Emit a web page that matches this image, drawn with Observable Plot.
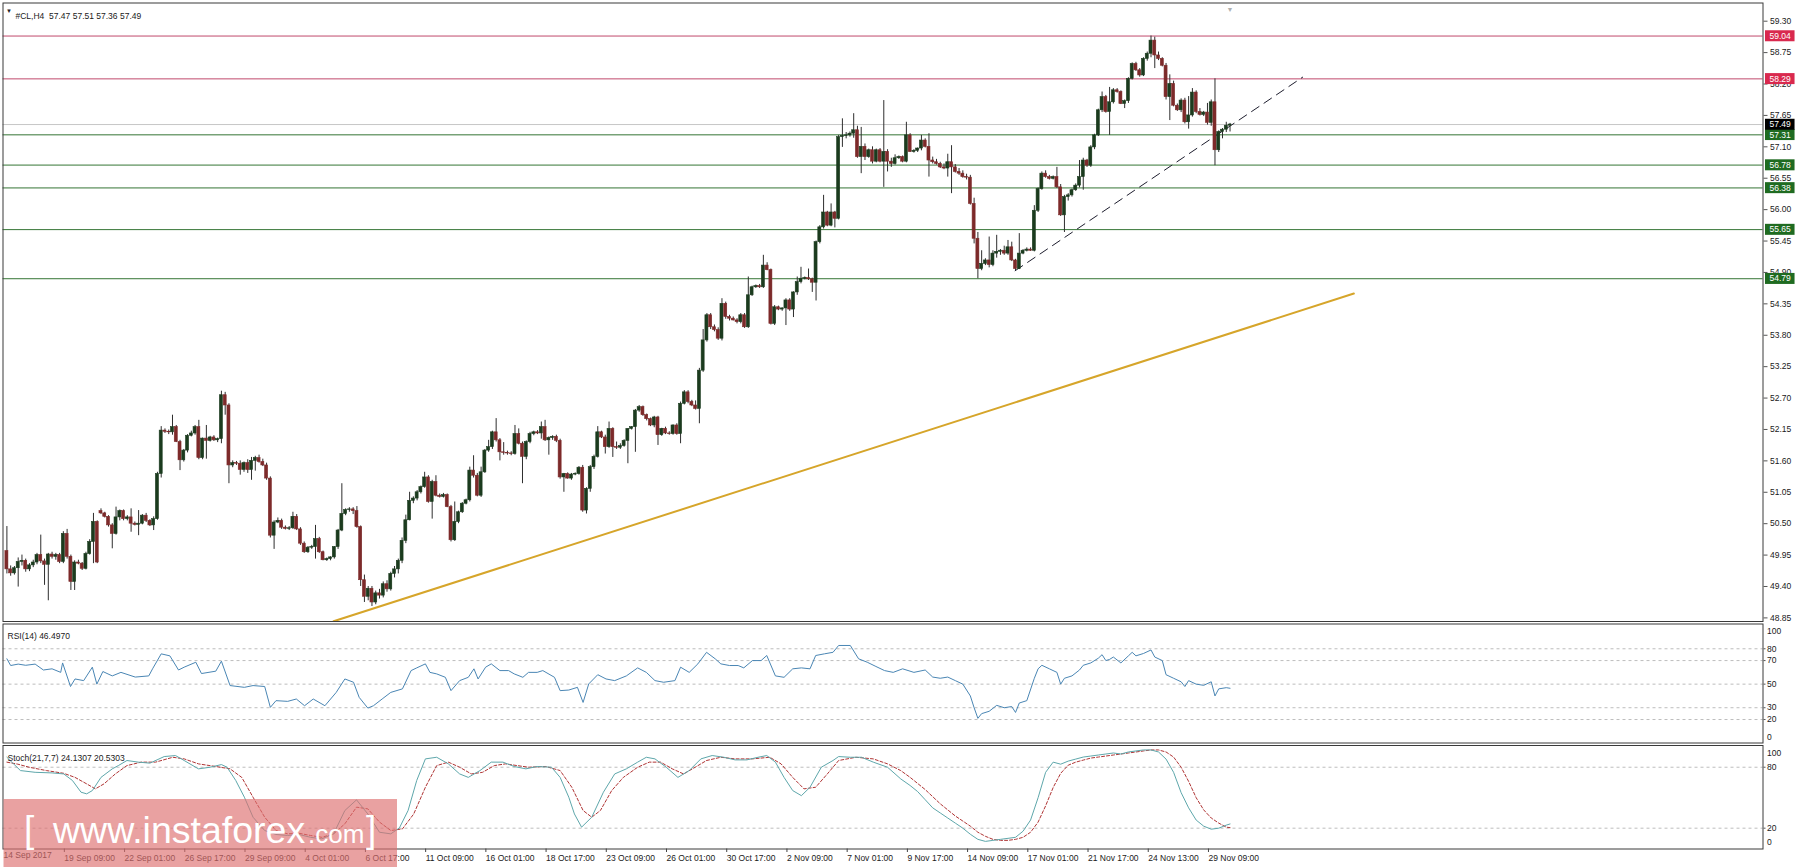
<!DOCTYPE html>
<html><head><meta charset="utf-8">
<script src="https://cdn.jsdelivr.net/npm/d3@7"></script>
<script src="https://cdn.jsdelivr.net/npm/@observablehq/plot@0.6"></script>
<style>
html,body{margin:0;padding:0;background:#fff;}
#wrap{position:relative;width:1800px;height:868px;overflow:hidden;font-family:"Liberation Sans",Arial,sans-serif;}
#wrap svg{position:absolute;left:0;top:0;}
</style></head><body><div id="wrap"></div>
<script>
// ---------------- DATA ----------------
const symbol = "#CL,H4";
const headerVals = [57.47, 57.51, 57.36, 57.49];

const open = [50.02,49.70,49.63,49.72,49.83,49.85,49.70,49.77,49.82,49.95,49.84,49.78,49.96,49.92,49.95,49.83,50.32,49.92,49.48,49.82,
49.80,49.71,49.97,50.18,50.53,50.72,50.68,50.62,50.47,50.32,50.61,50.72,50.58,50.61,50.50,50.48,50.50,50.64,50.55,50.47,
50.58,51.37,52.13,52.11,52.10,52.19,51.93,51.61,51.78,52.04,52.08,52.19,51.65,51.99,51.95,52.01,51.96,51.98,52.75,52.57,
51.52,51.56,51.55,51.44,51.56,51.44,51.60,51.65,51.58,51.52,51.29,50.29,50.52,50.55,50.43,50.41,50.42,50.62,50.40,50.15,
50.00,50.08,50.09,50.23,50.00,49.86,49.88,49.91,50.09,50.38,50.67,50.74,50.75,50.72,50.44,49.51,49.22,49.36,49.12,49.28,
49.24,49.44,49.35,49.62,49.70,49.85,50.20,50.56,50.90,50.94,51.05,51.14,51.31,50.88,51.23,50.99,50.97,51.00,50.79,50.21,
50.53,50.70,50.85,50.91,51.43,51.34,50.99,51.40,51.78,51.84,52.10,51.96,51.75,51.74,51.73,51.72,52.07,51.90,51.67,51.93,
52.07,52.10,52.08,52.19,51.96,52.00,52.02,51.95,51.31,51.37,51.29,51.36,51.37,51.48,50.73,51.11,51.49,51.67,52.10,52.01,
51.84,52.16,51.84,51.83,51.86,51.95,52.16,52.19,52.48,52.54,52.40,52.33,52.22,52.36,52.05,52.16,52.08,52.07,52.22,52.07,
52.60,52.80,52.63,52.57,52.51,53.18,53.71,54.15,53.94,53.89,53.74,54.35,54.12,54.09,54.06,54.03,54.15,53.94,54.50,54.64,
54.66,54.64,55.02,54.94,54.00,54.29,54.25,54.27,54.41,54.25,54.55,54.73,54.79,54.80,54.78,54.72,55.43,55.69,55.95,55.72,
55.95,55.84,57.27,57.29,57.30,57.33,57.39,56.92,57.10,56.92,57.04,56.84,57.04,56.84,57.01,56.84,56.80,56.90,56.92,56.84,
57.30,57.01,57.03,57.07,57.21,57.10,56.86,56.83,56.80,56.74,56.72,56.83,56.74,56.66,56.63,56.57,56.56,56.10,55.49,54.96,
55.05,55.11,55.03,55.23,55.26,55.28,55.23,55.34,55.11,54.96,55.23,55.28,55.30,55.28,55.98,56.36,56.63,56.57,56.54,56.57,
56.39,55.90,56.22,56.25,56.34,56.42,56.57,56.86,56.77,57.09,57.30,57.74,57.97,57.71,57.88,58.09,58.06,57.85,57.90,58.29,
58.55,58.44,58.35,58.64,58.73,58.96,58.70,58.64,58.52,57.97,58.20,57.82,57.74,57.91,57.53,57.65,58.05,57.71,57.66,57.70,
57.52,57.88,57.04,57.36,57.40,57.47];
const high = [50.45,49.76,49.75,49.90,49.95,49.88,49.80,49.86,49.98,50.30,49.88,49.98,50.00,49.98,49.98,50.36,50.40,49.95,49.85,49.86,
49.82,50.00,50.22,50.68,50.55,50.76,50.70,50.64,50.50,50.79,50.74,50.74,50.64,50.76,50.53,50.73,50.66,50.68,50.57,50.62,
51.40,52.20,52.16,52.14,52.40,52.22,51.96,51.80,52.06,52.12,52.22,52.31,52.00,52.22,52.03,52.04,52.00,52.82,52.80,52.60,
51.60,51.59,51.60,51.58,51.62,51.66,51.68,51.70,51.63,51.56,51.32,50.55,50.60,50.58,50.46,50.45,50.70,50.66,50.43,50.18,
50.10,50.12,50.47,50.26,50.02,49.90,49.92,50.10,50.40,51.20,50.76,50.78,50.78,50.80,50.46,49.60,49.40,49.40,49.32,49.35,
49.48,49.50,49.65,49.75,49.88,50.25,50.65,51.05,50.97,51.08,51.16,51.40,51.34,51.26,51.34,51.02,51.03,51.02,50.82,50.88,
50.72,50.87,50.93,51.49,51.69,51.38,51.49,51.80,51.96,52.12,52.34,51.99,51.92,51.77,51.76,52.22,52.16,51.93,51.95,52.10,
52.12,52.13,52.28,52.31,52.02,52.04,52.05,51.98,51.38,51.39,51.38,51.39,51.50,51.52,51.13,51.52,51.70,52.20,52.12,52.05,
52.28,52.18,51.93,51.90,51.97,52.16,52.20,52.50,52.57,52.56,52.42,52.35,52.38,52.38,52.17,52.19,52.11,52.23,52.25,52.63,
52.83,52.83,52.66,52.65,53.22,53.90,54.18,54.18,53.98,53.93,54.44,54.38,54.15,54.12,54.09,54.18,54.18,54.82,54.66,54.68,
54.69,55.20,55.07,54.96,54.32,54.31,54.28,54.44,54.44,54.56,54.82,54.99,54.82,54.96,54.80,55.45,55.72,56.25,55.97,56.10,
55.97,57.30,57.59,57.35,57.36,57.68,57.46,57.44,57.15,57.06,57.10,57.06,57.07,57.91,57.05,56.90,56.96,56.94,56.94,57.53,
57.33,57.05,57.08,57.30,57.24,57.33,56.92,56.88,56.83,56.80,56.97,57.12,56.79,56.72,56.68,56.62,56.60,56.20,55.60,55.28,
55.14,55.52,55.28,55.55,55.30,55.36,55.46,55.43,55.13,55.58,55.30,55.33,55.33,56.07,56.38,56.66,56.68,56.60,56.59,56.74,
56.44,56.25,56.28,56.36,56.45,56.86,56.90,56.88,57.12,57.32,57.76,58.06,58.00,58.14,58.12,58.12,58.08,57.92,58.31,58.57,
58.58,58.47,58.66,58.76,59.04,59.02,58.76,58.66,58.56,58.36,58.25,57.85,57.94,57.95,57.98,58.12,58.08,57.77,57.72,57.86,
57.92,58.29,57.38,57.42,57.53,57.51];
const low = [49.62,49.58,49.60,49.39,49.76,49.65,49.66,49.73,49.78,49.80,49.42,49.15,49.88,49.86,49.80,49.80,49.88,49.33,49.33,49.78,
49.68,49.69,49.95,49.80,49.80,50.66,50.60,50.44,50.06,50.30,50.55,50.55,50.55,50.35,50.46,50.29,50.48,50.52,50.45,50.38,
50.56,51.30,52.08,52.06,52.05,51.92,51.43,51.58,51.74,52.02,52.05,51.62,51.62,51.63,51.93,51.94,51.92,51.90,52.40,51.20,
51.48,51.52,51.35,51.40,51.38,51.26,51.42,51.56,51.50,51.26,50.25,50.05,50.50,50.40,50.39,50.38,50.40,50.38,50.12,49.98,
49.98,50.05,49.88,49.98,49.85,49.84,49.85,49.88,50.05,50.36,50.64,50.70,50.66,50.42,49.40,49.12,49.15,49.05,49.08,49.18,
49.20,49.30,49.32,49.55,49.62,49.80,50.15,50.55,50.85,50.90,51.02,51.12,50.86,50.58,50.97,50.95,50.95,50.78,50.18,50.19,
50.50,50.68,50.83,50.88,51.30,50.97,50.96,51.38,51.75,51.80,51.93,51.60,51.70,51.70,51.69,51.70,51.88,51.20,51.62,51.90,
52.04,52.06,51.98,51.94,51.70,51.96,51.92,51.28,51.05,51.28,51.26,51.34,51.35,50.70,50.67,51.05,51.45,51.65,51.99,51.72,
51.82,51.66,51.80,51.80,51.84,51.55,52.14,51.75,52.45,52.38,52.30,52.20,52.18,51.87,52.03,52.06,52.05,52.05,52.05,51.90,
52.58,52.60,52.55,52.49,52.25,53.15,53.68,53.90,53.86,53.71,53.70,54.08,54.05,54.05,54.00,54.00,53.92,53.92,54.48,54.62,
54.62,54.62,54.93,53.98,53.97,54.23,54.22,53.97,54.22,54.11,54.50,54.70,54.77,54.76,54.55,54.40,55.40,55.66,55.70,55.70,
55.68,55.82,57.09,57.24,57.27,57.25,56.90,56.63,56.86,56.90,56.80,56.82,56.82,56.39,56.66,56.74,56.78,56.88,56.82,56.82,
57.00,56.99,57.00,57.03,57.08,56.57,56.80,56.78,56.72,56.70,56.57,56.28,56.64,56.60,56.55,56.52,56.08,55.40,54.79,54.93,
55.02,54.98,55.00,55.15,55.20,55.20,55.20,55.09,54.93,54.95,55.21,55.26,55.27,55.26,55.95,56.34,56.55,56.52,56.52,56.37,
55.88,55.60,56.15,56.22,56.32,56.38,56.34,56.74,56.74,57.05,57.28,57.70,57.69,57.30,57.85,58.04,57.84,57.77,57.86,58.27,
58.42,58.32,58.33,58.60,58.66,58.47,58.61,58.50,57.92,57.56,57.80,57.72,57.70,57.50,57.41,57.62,57.68,57.64,57.63,57.48,
57.46,56.77,57.00,57.24,57.35,57.36];
const close = [49.70,49.63,49.72,49.83,49.85,49.70,49.77,49.82,49.95,49.84,49.78,49.96,49.92,49.95,49.83,50.32,49.92,49.48,49.82,49.80,
49.71,49.97,50.18,50.53,49.82,50.68,50.62,50.47,50.32,50.61,50.72,50.58,50.61,50.50,50.48,50.50,50.64,50.55,50.47,50.58,
51.37,52.13,52.11,52.10,52.19,51.93,51.61,51.78,52.04,52.08,52.19,51.65,51.99,51.95,52.01,51.96,51.98,52.75,52.57,51.52,
51.56,51.55,51.44,51.56,51.44,51.60,51.65,51.58,51.52,51.29,50.29,50.52,50.55,50.43,50.41,50.42,50.62,50.40,50.15,50.00,
50.08,50.09,50.23,50.00,49.86,49.88,49.91,50.09,50.38,50.67,50.74,50.75,50.72,50.44,49.51,49.22,49.36,49.12,49.28,49.24,
49.44,49.35,49.62,49.70,49.85,50.20,50.56,50.90,50.94,51.05,51.14,51.31,50.88,51.23,50.99,50.97,51.00,50.79,50.21,50.53,
50.70,50.85,50.91,51.43,51.34,50.99,51.40,51.78,51.84,52.10,51.96,51.75,51.74,51.73,51.72,52.07,51.90,51.67,51.93,52.07,
52.10,52.08,52.19,51.96,52.00,52.02,51.95,51.31,51.37,51.29,51.36,51.37,51.48,50.73,51.11,51.49,51.67,52.10,52.01,51.84,
52.16,51.84,51.83,51.86,51.95,52.16,52.19,52.48,52.54,52.40,52.33,52.22,52.36,52.05,52.16,52.08,52.07,52.22,52.07,52.60,
52.80,52.63,52.57,52.51,53.18,53.71,54.15,53.94,53.89,53.74,54.35,54.12,54.09,54.06,54.03,54.15,53.94,54.50,54.64,54.66,
54.64,55.02,54.94,54.00,54.29,54.25,54.27,54.41,54.25,54.55,54.73,54.79,54.80,54.78,54.72,55.43,55.69,55.95,55.72,55.95,
55.84,57.27,57.29,57.30,57.33,57.39,56.92,57.10,56.92,57.04,56.84,57.04,56.84,57.01,56.84,56.80,56.90,56.92,56.84,57.30,
57.01,57.03,57.07,57.21,57.10,56.86,56.83,56.80,56.74,56.72,56.83,56.74,56.66,56.63,56.57,56.56,56.10,55.49,54.96,55.05,
55.11,55.03,55.23,55.26,55.28,55.23,55.34,55.11,54.96,55.23,55.28,55.30,55.28,55.98,56.36,56.63,56.57,56.54,56.57,56.39,
55.90,56.22,56.25,56.34,56.42,56.57,56.86,56.77,57.09,57.30,57.74,57.97,57.71,57.88,58.09,58.06,57.85,57.90,58.29,58.55,
58.44,58.35,58.64,58.73,58.96,58.70,58.64,58.52,57.97,58.20,57.82,57.74,57.91,57.53,57.65,58.05,57.71,57.66,57.70,57.52,
57.88,57.04,57.36,57.40,57.47,57.49];

// horizontal levels
const redLevels = [59.04, 58.29];
const greenLevels = [57.31, 56.78, 56.38, 55.65, 54.79];
const bidLevel = 57.49;
// trend lines (bar index, price)
const goldBars = [86.8, 357.9], goldPrices = [48.79, 54.53];
const dashBars = [267.9, 344.3], dashPrices = [54.93, 58.32];

// price axis ticks
const priceTicks = [48.85,49.40,49.95,50.50,51.05,51.60,52.15,52.70,53.25,53.80,54.35,54.90,55.45,56.00,56.55,57.10,57.65,58.20,58.75,59.30];
// time axis
const timeTickBars = [15,31,47,63,79,95,111,127,143,159,175,191,207,223,239,255,271,287,303,319];
const timeTickLabels = ["19 Sep 09:00","22 Sep 01:00","26 Sep 17:00","29 Sep 09:00","4 Oct 01:00","6 Oct 17:00","11 Oct 09:00","16 Oct 01:00","18 Oct 17:00","23 Oct 09:00","26 Oct 01:00","30 Oct 17:00","2 Nov 09:00","7 Nov 01:00","9 Nov 17:00","14 Nov 09:00","17 Nov 01:00","21 Nov 17:00","24 Nov 13:00","29 Nov 09:00"];
const firstDateLabel = "14 Sep 2017";

// RSI(14)
const rsiTitle = "RSI(14) 46.4970";
const rsiLevels = [20,30,50,70,80];
const rsiBar = [0,1,3,5,7.5,9.7,12,14.3,14.8,16.9,18.1,20.4,22.7,23.9,25.5,28,30.3,34.1,37.7,38.7,41,43.3,45.6,47.1,50.2,51.7,55.5,57,59.3,63.1,65.4,68.5,70,71.5,74.6,76.9,79.1,81.4,84.5,87.5,89.8,92.1,93.6,95.9,97.4,99.7,102,105.1,107.4,108.9,111.2,112.4,114.2,116.5,118,120.3,122.6,124.1,125.2,127.2,128.7,131,133.3,134.8,137.1,138.6,140.9,142.4,145.5,147,149.3,151.6,153.1,154.6,157,159.2,161.5,164.6,167.6,169.9,172.2,174.5,177.5,179,181.3,183.6,185.9,188.2,189.7,192,194.3,195.8,198.1,200.4,201.9,204.2,206.5,208.8,211.1,213.4,214.9,217.2,219.5,221,224.1,226.3,228.6,230.9,233.2,235.5,238,241,244,246,248,250,252,254,256,257,258,259,261,263,265,267,268,269,271,273,274,275,277,279,280,281,283,285,286,288,290,291,292,293,294,296,298,299,300,302,304,305,307,308,310,312,313,314,316,318,320,321,322,324,325];
const rsiVal = [71.5,65.8,67,66,67,62,63,60,68,48,54.4,53,64.4,50,60.7,57,60,56,57,63,75.7,74,62,64.4,68.6,59,61,69.5,48.8,47.3,48.8,48,30.3,36,35.4,37.4,31.7,37.4,31.7,43,54.4,51.6,38.8,29.7,31.7,37.4,43,46,61.5,63.8,67.2,60,58.7,55.8,44.5,53,55.8,63,54.4,64.4,67.2,61.5,61.5,58.7,55.8,60,60,61.5,55.8,44.5,45,47.3,34.5,50.2,58,54.4,53,57,63.8,60,53,51.6,53,64.4,60,67.2,77,71.5,67.2,65.8,65.8,63.8,70,70,74.3,57,55.8,63,63.8,63,74.3,75.7,77,82.8,82.8,71.5,68.6,65,61.5,60,63,60,62,56,55,56,53,50,40,30,21,25,27,32,30,31,26,34,36,55,63,66,63,60,50,55,57,62,66,68,72,75,70,71,73,68,74,77,74,76,79,73,70,58,55,52,48,53,50,49,52,40,46,47,46.5];

// Stoch(21,7,7)
const stochTitle = "Stoch(21,7,7) 24.1307 20.5303";
const stochLevels = [20,80];
const stochMainBar = [0,1.3,3.6,7.5,12,15.1,17.4,19.7,21.2,22.7,25,28,29.6,31.9,34.9,38,41.8,44.8,47.1,50.9,54,57,58.5,60.8,63.1,65.4,68.5,71.5,74.6,77.6,80.7,83.7,86.8,89.8,92.9,95.9,99,102,104.3,106.6,108.9,111.2,114.2,117.3,120.3,122.6,125.7,128.7,131.8,134.8,137.9,140.9,144.7,147,149.3,150.8,152.7,155.4,158.5,161.5,164.6,167.6,169.9,172.2,175.2,178.3,181.3,184.4,187.4,190.5,193.5,196.6,199.6,201.9,204.2,206.5,208.8,211.1,213.4,216.4,219.5,221,224.1,227.1,230.2,234,237.5,240,242,244,246,248,250,252,254,256,258,260,262,264,266,268,270,272,274,276,278,280,282,284,286,288,290,292,294,296,298,300,302,304,306,308,310,312,314,316,318,320,322,324,325];
const stochMainVal = [89.8,85,76.7,75,74.4,73.4,67,55.4,53.8,57,70,78.4,81.6,86.6,85,84,90.5,91.5,86.6,78.4,80,82.6,80,67,50.5,30.8,17.7,13.8,12.8,13.8,11,9.5,14.4,37.4,47.9,34,16,14.4,20.3,37.4,67,88.2,89.8,83.3,73.4,70,76.7,85,85,80.7,78.4,80.7,80,70,50.5,34,21,30.8,55.4,73.4,78.4,85,89.8,88.2,80,70,76.7,88.2,91.5,89.8,87.2,87.2,89.8,91.5,85,70,57,52,60.3,80,86.6,90.5,89.8,89.8,85,80,68.5,62,56,48,40,35,30,25,20,14,9,7,8,9,10,11,17,28,50,75,85,83,86,88,90,91,92,93,94,93,95,96,97,97,95,88,75,55,40,28,22,19,20,23,24.13];
const stochSigBar = [0,2.9,5.9,10.5,15.1,18.1,21.2,23.5,25.8,28.8,31.9,35.7,39.5,44.1,47.1,50.9,55.5,59.3,62.4,65.4,68.5,71.5,74.6,77.6,80.7,83.7,86.8,89.8,92.9,95.9,99,102,105.1,108.1,111.2,114.2,117.3,120.3,123.4,126.4,129.5,132.5,135.6,138.6,143.2,147,150.1,153.1,155.4,157.7,160.7,163.8,167.6,170.7,173.7,176.8,179.8,182.9,185.9,189.7,193.5,198.1,202.7,205.7,208.8,211.8,214.9,218,221,225.6,230.2,234,237.5,240,242,244,246,248,250,252,254,256,258,260,262,264,266,268,270,272,274,276,278,280,282,284,286,288,290,292,294,296,298,300,302,304,306,308,310,312,314,316,318,320,322,324,325];
const stochSigVal = [85,83,80,76.7,74,70,63.6,58.7,63.6,73.4,81.6,85,85,89.8,88.2,83.3,80.7,78.4,70,50.5,30.8,17.7,14.4,15,12.8,11,14.4,24.3,40.7,39,26,17.7,19.3,34,60.3,81.6,85,80,73.4,75,81.6,83.3,81.6,80,80.7,76.7,60.3,37.4,30.8,37.4,57,70,80,85,85,78.4,73.4,80,86.6,89.8,88.2,88.2,89.8,83.3,70,58.7,60.3,73.4,86.6,89.8,88.2,83.3,76.7,70,64,58,51,44,38,32,27,22,16,12,9,8,8,9,11,16,26,42,60,74,82,85,87,89,90,91,92,93,94,95,96,97,97,95,90,80,66,50,38,30,25,21,20.53];

// ---------------- DRAW ----------------
const FONT = "Liberation Sans, Arial, sans-serif";
const X = {type: "linear", domain: [0, 100], range: [6.4, 6.4 + 376.35], axis: null};
const W = 1800, H = 868;
const bars = close.map((c, i) => ({i, o: open[i], h: high[i], l: low[i], c}));
const upCol = "#1b3b1e", dnCol = "#7d2a2a", wickCol = "#2e2e2e";
const frameCol = "#3a3a3a", txtCol = "#1a1a1a";

function panel(mt, mb, y, marks) {
  return Plot.plot({
    width: W, height: H, marginLeft: 2.5, marginRight: 37.5, marginTop: mt, marginBottom: mb,
    x: X, y: {...y, axis: null},
    style: {fontFamily: FONT, background: "transparent", color: txtCol},
    marks
  });
}

const lvlText = (vals, tag) => Plot.text(vals, {y: d => d, text: d => d.toFixed(2), frameAnchor: "right", dx: 6.5,
  textAnchor: "start", fill: "white", fontSize: 8.5, ariaLabel: () => tag});

const main = panel(2.5, H - 621, {domain: [48.85, 59.30], range: [617.4, 20.7]}, [
  Plot.ruleY([bidLevel], {stroke: "#c6c6c6", strokeWidth: 1}),
  Plot.ruleY(redLevels, {stroke: "#c04a6c", strokeWidth: 1}),
  Plot.ruleY(greenLevels, {stroke: "#357535", strokeWidth: 1}),
  Plot.line(goldBars, {x: d => d, y: (d, k) => goldPrices[k], stroke: "#d6a52a", strokeWidth: 2, clip: true}),
  Plot.line(dashBars, {x: d => d, y: (d, k) => dashPrices[k], stroke: "#1e1e2e", strokeWidth: 1, strokeDasharray: "9,6"}),
  Plot.ruleX(bars, {x: "i", y1: "l", y2: "h", stroke: wickCol, strokeWidth: 1}),
  Plot.rect(bars, {x1: d => d.i - 0.4, x2: d => d.i + 0.4, y1: "o", y2: "c",
    fill: d => d.c >= d.o ? upCol : dnCol, stroke: d => d.c >= d.o ? upCol : dnCol, strokeWidth: 0.6}),
  Plot.frame({stroke: frameCol, strokeWidth: 1}),
  Plot.axisY(priceTicks, {anchor: "right", tickSize: 4, tickPadding: 3, tickFormat: d => d.toFixed(2), fontSize: 8.5, stroke: "#555", fill: txtCol}),
  lvlText(redLevels, "lvl-red"),
  lvlText(greenLevels, "lvl-green"),
  lvlText([bidLevel], "lvl-bid"),
  Plot.text(["\u25BC"], {frameAnchor: "top-left", dx: 3, dy: 6, fontSize: 6, fill: "#222", textAnchor: "start"}),
  Plot.text([symbol + "  " + headerVals.map(v => v.toFixed(2)).join(" ")], {frameAnchor: "top-left", dx: 12.5, dy: 9.5, fontSize: 8.5, fill: txtCol, textAnchor: "start"}),
  Plot.text(["\u25BC"], {x: [bars.length - 1], frameAnchor: "top", dy: 4, fontSize: 7, fill: "#b0b0b0"})
]);

const rsi = panel(623.5, H - 742.5, {domain: [0, 100], range: [742.6, 624.7]}, [
  Plot.ruleY(rsiLevels, {stroke: "#bdbdbd", strokeDasharray: "3,3"}),
  Plot.line(rsiBar, {x: d => d, y: (d, k) => rsiVal[k], stroke: "#4a86b4", strokeWidth: 1}),
  Plot.frame({stroke: frameCol}),
  Plot.axisY(rsiLevels, {anchor: "right", tickSize: 2, tickPadding: 2, fontSize: 8.5, stroke: "#555", fill: txtCol}),
  Plot.text([100], {y: d => d, text: d => String(d), frameAnchor: "right", dx: 4, dy: 6, textAnchor: "start", fontSize: 8.5, fill: txtCol}),
  Plot.text([0], {y: d => d, text: d => String(d), frameAnchor: "right", dx: 4, dy: -6, textAnchor: "start", fontSize: 8.5, fill: txtCol}),
  Plot.text([rsiTitle], {frameAnchor: "top-left", dx: 4.5, dy: 9, fontSize: 8.5, fill: txtCol, textAnchor: "start"})
]);

const stoch = panel(745, H - 848.5, {domain: [0, 100], range: [848, 746.4]}, [
  Plot.ruleY(stochLevels, {stroke: "#bdbdbd", strokeDasharray: "3,3"}),
  Plot.line(stochSigBar, {x: d => d, y: (d, k) => stochSigVal[k], stroke: "#b03535", strokeWidth: 1, strokeDasharray: "3,2"}),
  Plot.line(stochMainBar, {x: d => d, y: (d, k) => stochMainVal[k], stroke: "#5ea7ab", strokeWidth: 1}),
  Plot.frame({stroke: frameCol}),
  Plot.axisY(stochLevels, {anchor: "right", tickSize: 2, tickPadding: 2, fontSize: 8.5, stroke: "#555", fill: txtCol}),
  Plot.text([100], {y: d => d, text: d => String(d), frameAnchor: "right", dx: 4, dy: 6, textAnchor: "start", fontSize: 8.5, fill: txtCol}),
  Plot.text([0], {y: d => d, text: d => String(d), frameAnchor: "right", dx: 4, dy: -6, textAnchor: "start", fontSize: 8.5, fill: txtCol}),
  Plot.text([stochTitle], {frameAnchor: "top-left", dx: 4.5, dy: 9, fontSize: 8.5, fill: txtCol, textAnchor: "start"}),
  Plot.axisX(timeTickBars, {anchor: "bottom", tickSize: 3.5, tickPadding: 2, tickFormat: d => timeTickLabels[timeTickBars.indexOf(d)], textAnchor: "start", dx: 1, fontSize: 8.5, stroke: "#444", fill: txtCol}),
  Plot.text([firstDateLabel], {frameAnchor: "bottom-left", dx: 0.5, dy: 9, fontSize: 8.5, fill: txtCol, textAnchor: "start"})
]);

const wrap = document.getElementById("wrap");
[main, rsi, stoch].forEach(s => wrap.appendChild(s));

// colored boxes behind the level labels
const boxColors = {"lvl-red": "#d9294e", "lvl-green": "#1f6b21", "lvl-bid": "#000000"};
Object.entries(boxColors).forEach(([tag, col]) => {
  d3.select(main).selectAll("text").filter(function () {
    return this.getAttribute("aria-label") === tag;
  }).each(function () {
    const b = this.getBBox();
    const r = document.createElementNS("http://www.w3.org/2000/svg", "rect");
    const tr = this.getAttribute("transform");
    if (tr) r.setAttribute("transform", tr);
    r.setAttribute("x", b.x - 4.5); r.setAttribute("y", b.y - 0.5);
    r.setAttribute("width", b.width + 8); r.setAttribute("height", b.height + 1);
    r.setAttribute("fill", col);
    this.parentNode.insertBefore(r, this);
  });
});

// watermark
const wm = d3.select(wrap).append("svg").attr("width", W).attr("height", H).style("pointer-events", "none");
wm.append("rect").attr("x", 3.5).attr("y", 799).attr("width", 393.5).attr("height", 68).attr("fill", "rgba(222,112,112,0.66)");
wm.append("text").attr("x", 24).attr("y", 842).attr("fill", "white").style("font-family", FONT).attr("font-size", 37).text("[");
wm.append("text").attr("x", 53).attr("y", 843).attr("fill", "white").style("font-family", FONT).attr("font-size", 37.5).text("www.instaforex");
wm.append("text").attr("x", 308).attr("y", 843).attr("fill", "white").style("font-family", FONT).attr("font-size", 26).text(".com");
wm.append("text").attr("x", 366).attr("y", 842).attr("fill", "white").style("font-family", FONT).attr("font-size", 37).text("]");
</script></body></html>
